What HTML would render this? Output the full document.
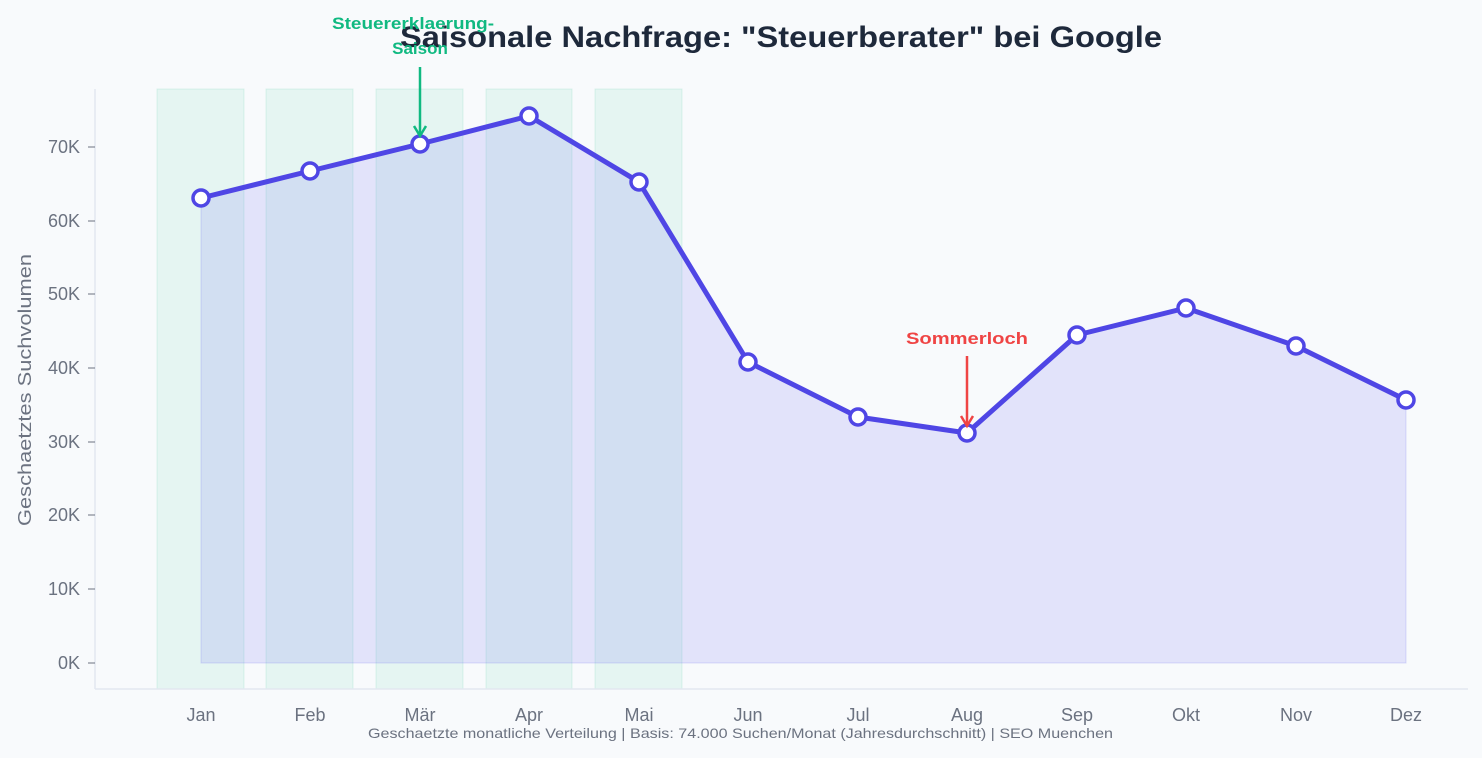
<!DOCTYPE html>
<html><head><meta charset="utf-8"><style>
body{margin:0;background:#f8fafc;}
svg{display:block;font-family:"Liberation Sans",sans-serif;}
</style></head><body>
<svg width="1482" height="758" viewBox="0 0 1482 758">
<rect width="1482" height="758" fill="#f8fafc"/>
<g fill="#10b981" fill-opacity="0.08" stroke="#10b981" stroke-opacity="0.12">
<rect x="157" y="89" width="87" height="600"/>
<rect x="266" y="89" width="87" height="600"/>
<rect x="376" y="89" width="87" height="600"/>
<rect x="486" y="89" width="86" height="600"/>
<rect x="595" y="89" width="87" height="600"/>
</g>
<polygon points="201,663 201,198 310,171 420,144 529,116 639,182 748,362 858,417 967,433 1077,335 1186,308 1296,346 1406,400 1406,663" fill="#6366f1" fill-opacity="0.15" stroke="#6366f1" stroke-opacity="0.2"/>
<polyline points="201,198 310,171 420,144 529,116 639,182 748,362 858,417 967,433 1077,335 1186,308 1296,346 1406,400" fill="none" stroke="#4f46e5" stroke-width="5" stroke-linejoin="round"/>
<g fill="#fff" stroke="#4f46e5" stroke-width="3.5">
<circle cx="201" cy="198" r="8"/><circle cx="310" cy="171" r="8"/><circle cx="420" cy="144" r="8"/><circle cx="529" cy="116" r="8"/><circle cx="639" cy="182" r="8"/><circle cx="748" cy="362" r="8"/><circle cx="858" cy="417" r="8"/><circle cx="967" cy="433" r="8"/><circle cx="1077" cy="335" r="8"/><circle cx="1186" cy="308" r="8"/><circle cx="1296" cy="346" r="8"/><circle cx="1406" cy="400" r="8"/>
</g>
<g stroke="#e2e8f0" stroke-width="1.5"><line x1="95" y1="89" x2="95" y2="689"/><line x1="95" y1="689" x2="1468" y2="689"/></g>
<g fill="#6b7280" font-size="18" text-anchor="end">
<text x="80" y="669">0K</text><text x="80" y="595">10K</text><text x="80" y="521">20K</text><text x="80" y="448">30K</text><text x="80" y="374">40K</text><text x="80" y="300">50K</text><text x="80" y="227">60K</text><text x="80" y="153">70K</text>
</g>
<g stroke="#6b7280"><line x1="88" y1="663" x2="95" y2="663"/><line x1="88" y1="589" x2="95" y2="589"/><line x1="88" y1="515" x2="95" y2="515"/><line x1="88" y1="442" x2="95" y2="442"/><line x1="88" y1="368" x2="95" y2="368"/><line x1="88" y1="294" x2="95" y2="294"/><line x1="88" y1="221" x2="95" y2="221"/><line x1="88" y1="147" x2="95" y2="147"/></g>
<g fill="#6b7280" font-size="18" text-anchor="middle">
<text x="201" y="721">Jan</text><text x="310" y="721">Feb</text><text x="420" y="721">Mär</text><text x="529" y="721">Apr</text><text x="639" y="721">Mai</text><text x="748" y="721">Jun</text><text x="858" y="721">Jul</text><text x="967" y="721">Aug</text><text x="1077" y="721">Sep</text><text x="1186" y="721">Okt</text><text x="1296" y="721">Nov</text><text x="1406" y="721">Dez</text>
</g>
<text x="31" y="390" fill="#6b7280" font-size="18" text-anchor="middle" transform="rotate(-90 31 390)" textLength="272" lengthAdjust="spacingAndGlyphs">Geschaetztes Suchvolumen</text>
<text x="368" y="738" fill="#6b7280" font-size="14" textLength="745" lengthAdjust="spacingAndGlyphs">Geschaetzte monatliche Verteilung | Basis: 74.000 Suchen/Monat (Jahresdurchschnitt) | SEO Muenchen</text>
<text x="400" y="47" fill="#1e293b" font-size="30" font-weight="bold" textLength="762" lengthAdjust="spacingAndGlyphs">Saisonale Nachfrage: "Steuerberater" bei Google</text>
<g fill="#10b981" font-size="17" font-weight="bold" text-anchor="middle"><text x="413" y="29" textLength="162" lengthAdjust="spacingAndGlyphs">Steuererklaerung-</text><text x="420" y="54">Saison</text></g>
<line x1="420" y1="67" x2="420" y2="134" stroke="#10b981" stroke-width="2.5"/>
<polyline points="414,126 420,136 426,126" fill="none" stroke="#10b981" stroke-width="2.5"/>
<text x="967" y="344" fill="#ef4444" font-size="17" font-weight="bold" text-anchor="middle" textLength="122" lengthAdjust="spacingAndGlyphs">Sommerloch</text>
<line x1="967" y1="356" x2="967" y2="424" stroke="#ef4444" stroke-width="2.5"/>
<polyline points="961,416 967,426 973,416" fill="none" stroke="#ef4444" stroke-width="2.5"/>
</svg>
</body></html>
